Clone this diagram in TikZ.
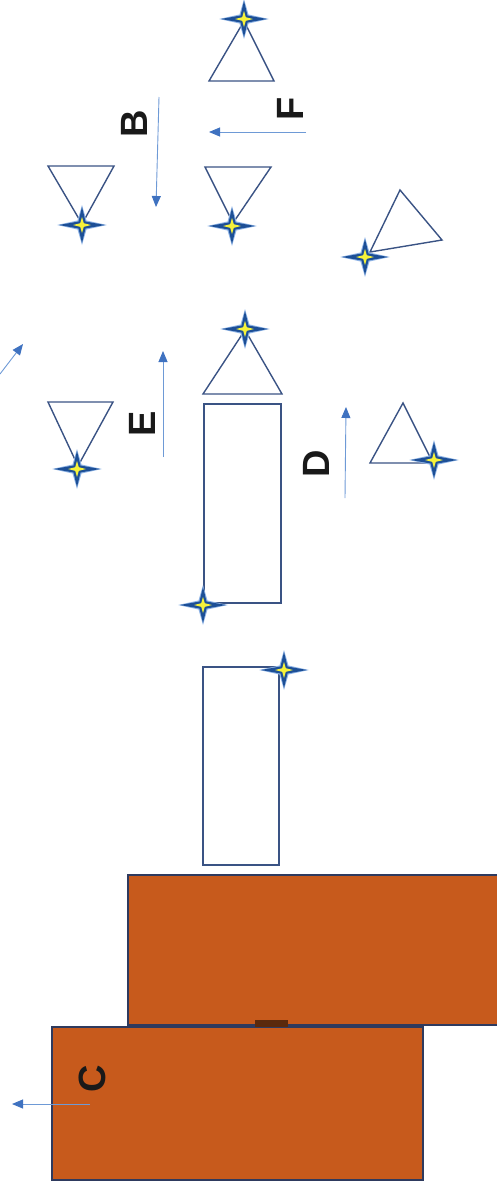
\documentclass[tikz,border=0pt]{standalone}
\usepackage{fontspec}
\setmainfont{Liberation Sans}
\usetikzlibrary{arrows.meta}
\definecolor{edge}{HTML}{3A5384}
\definecolor{arrowline}{HTML}{6E9AD6}
\definecolor{arrowhead}{HTML}{3F72C0}
\definecolor{brick}{HTML}{C75A1C}
\definecolor{brickedge}{HTML}{2E3A5E}
\definecolor{starblue}{HTML}{1D4F96}
\definecolor{starglow}{HTML}{8FB4E6}
\definecolor{staryellow}{HTML}{F6F23A}
\tikzset{
  shapeline/.style={draw=edge, line width=1.4pt, line join=miter},
  brickbox/.style={fill=brick, draw=brickedge, line width=1.2pt},
  moveline/.style={draw=arrowline, line width=0.9pt, -{Triangle[length=11pt,width=9pt,color=arrowhead]}},
  letter/.style={font=\fontsize{38}{40}\selectfont\bfseries, text=black!90, rotate=90, inner sep=0pt},
  pics/sparkle/.style={code={
    \fill[starglow] (25,0) -- (4.5,-4.5) -- (0,-20) -- (-4.5,-4.5) -- (-25,0) -- (-4.5,4.5) -- (0,20) -- (4.5,4.5) -- cycle;
    \fill[starblue] (23,0) -- (3.5,-3.5) -- (0,-18) -- (-3.5,-3.5) -- (-23,0) -- (-3.5,3.5) -- (0,18) -- (3.5,3.5) -- cycle;
    \fill[staryellow] (9,0) -- (1.8,-1.8) -- (0,-8) -- (-1.8,-1.8) -- (-9,0) -- (-1.8,1.8) -- (0,8) -- (1.8,1.8) -- cycle;
  }}
}
\begin{document}
\begin{tikzpicture}[x=1pt,y=-1pt]
\useasboundingbox (0,0) rectangle (496,1186);
% bricks
\path[brickbox] (128,875) rectangle (498,1025);
\path[brickbox] (52,1027) rectangle (423,1180);
\fill[black!55!brick] (255,1020) rectangle (288,1027);
% triangles
\draw[shapeline] (244,21) -- (209,81) -- (274,81) -- cycle;
\draw[shapeline] (48,166) -- (114,166) -- (82,224) -- cycle;
\draw[shapeline] (205,167) -- (271,167) -- (233,223) -- cycle;
\draw[shapeline] (400,190) -- (442,240) -- (370,252) -- cycle;
\draw[shapeline] (245,330) -- (203,394) -- (282,394) -- cycle;
\draw[shapeline] (48,402) -- (113,402) -- (78,466) -- cycle;
\draw[shapeline] (403,403) -- (370,463) -- (433,463) -- cycle;
% rectangles
\draw[shapeline] (204,404) rectangle (281,603);
\draw[shapeline] (203,667) rectangle (279,865);
% sparkles
\pic at (244,19) {sparkle};
\pic at (82,225) {sparkle};
\pic at (232,226) {sparkle};
\pic at (365,257) {sparkle};
\pic at (245,329) {sparkle};
\pic at (77,469) {sparkle};
\pic at (434,460) {sparkle};
\pic at (203,605) {sparkle};
\pic at (284,670) {sparkle};
% arrow end points
\coordinate (b0) at (159,97);  \coordinate (b1) at (156,207);
\coordinate (f0) at (306,132); \coordinate (f1) at (209,132);
\coordinate (e0) at (163,457); \coordinate (e1) at (163,351);
\coordinate (d0) at (345,498); \coordinate (d1) at (346,407);
\coordinate (g0) at (0,374);   \coordinate (g1) at (23,344);
\coordinate (c0) at (90,1104); \coordinate (c1) at (12,1104);
\draw[moveline] (b0) -- (b1);
\draw[moveline] (f0) -- (f1);
\draw[moveline] (e0) -- (e1);
\draw[moveline] (d0) -- (d1);
\draw[moveline] (g0) -- (g1);
\draw[moveline] (c0) -- (c1);
% labels
\node[letter] (lb) at (134,124) {B};
\node[letter] (lf) at (290,109) {F};
\node[letter] (le) at (142,424) {E};
\node[letter] (ld) at (316,464) {D};
\node[letter] (lc) at (92,1079) {C};
\end{tikzpicture}
\end{document}
